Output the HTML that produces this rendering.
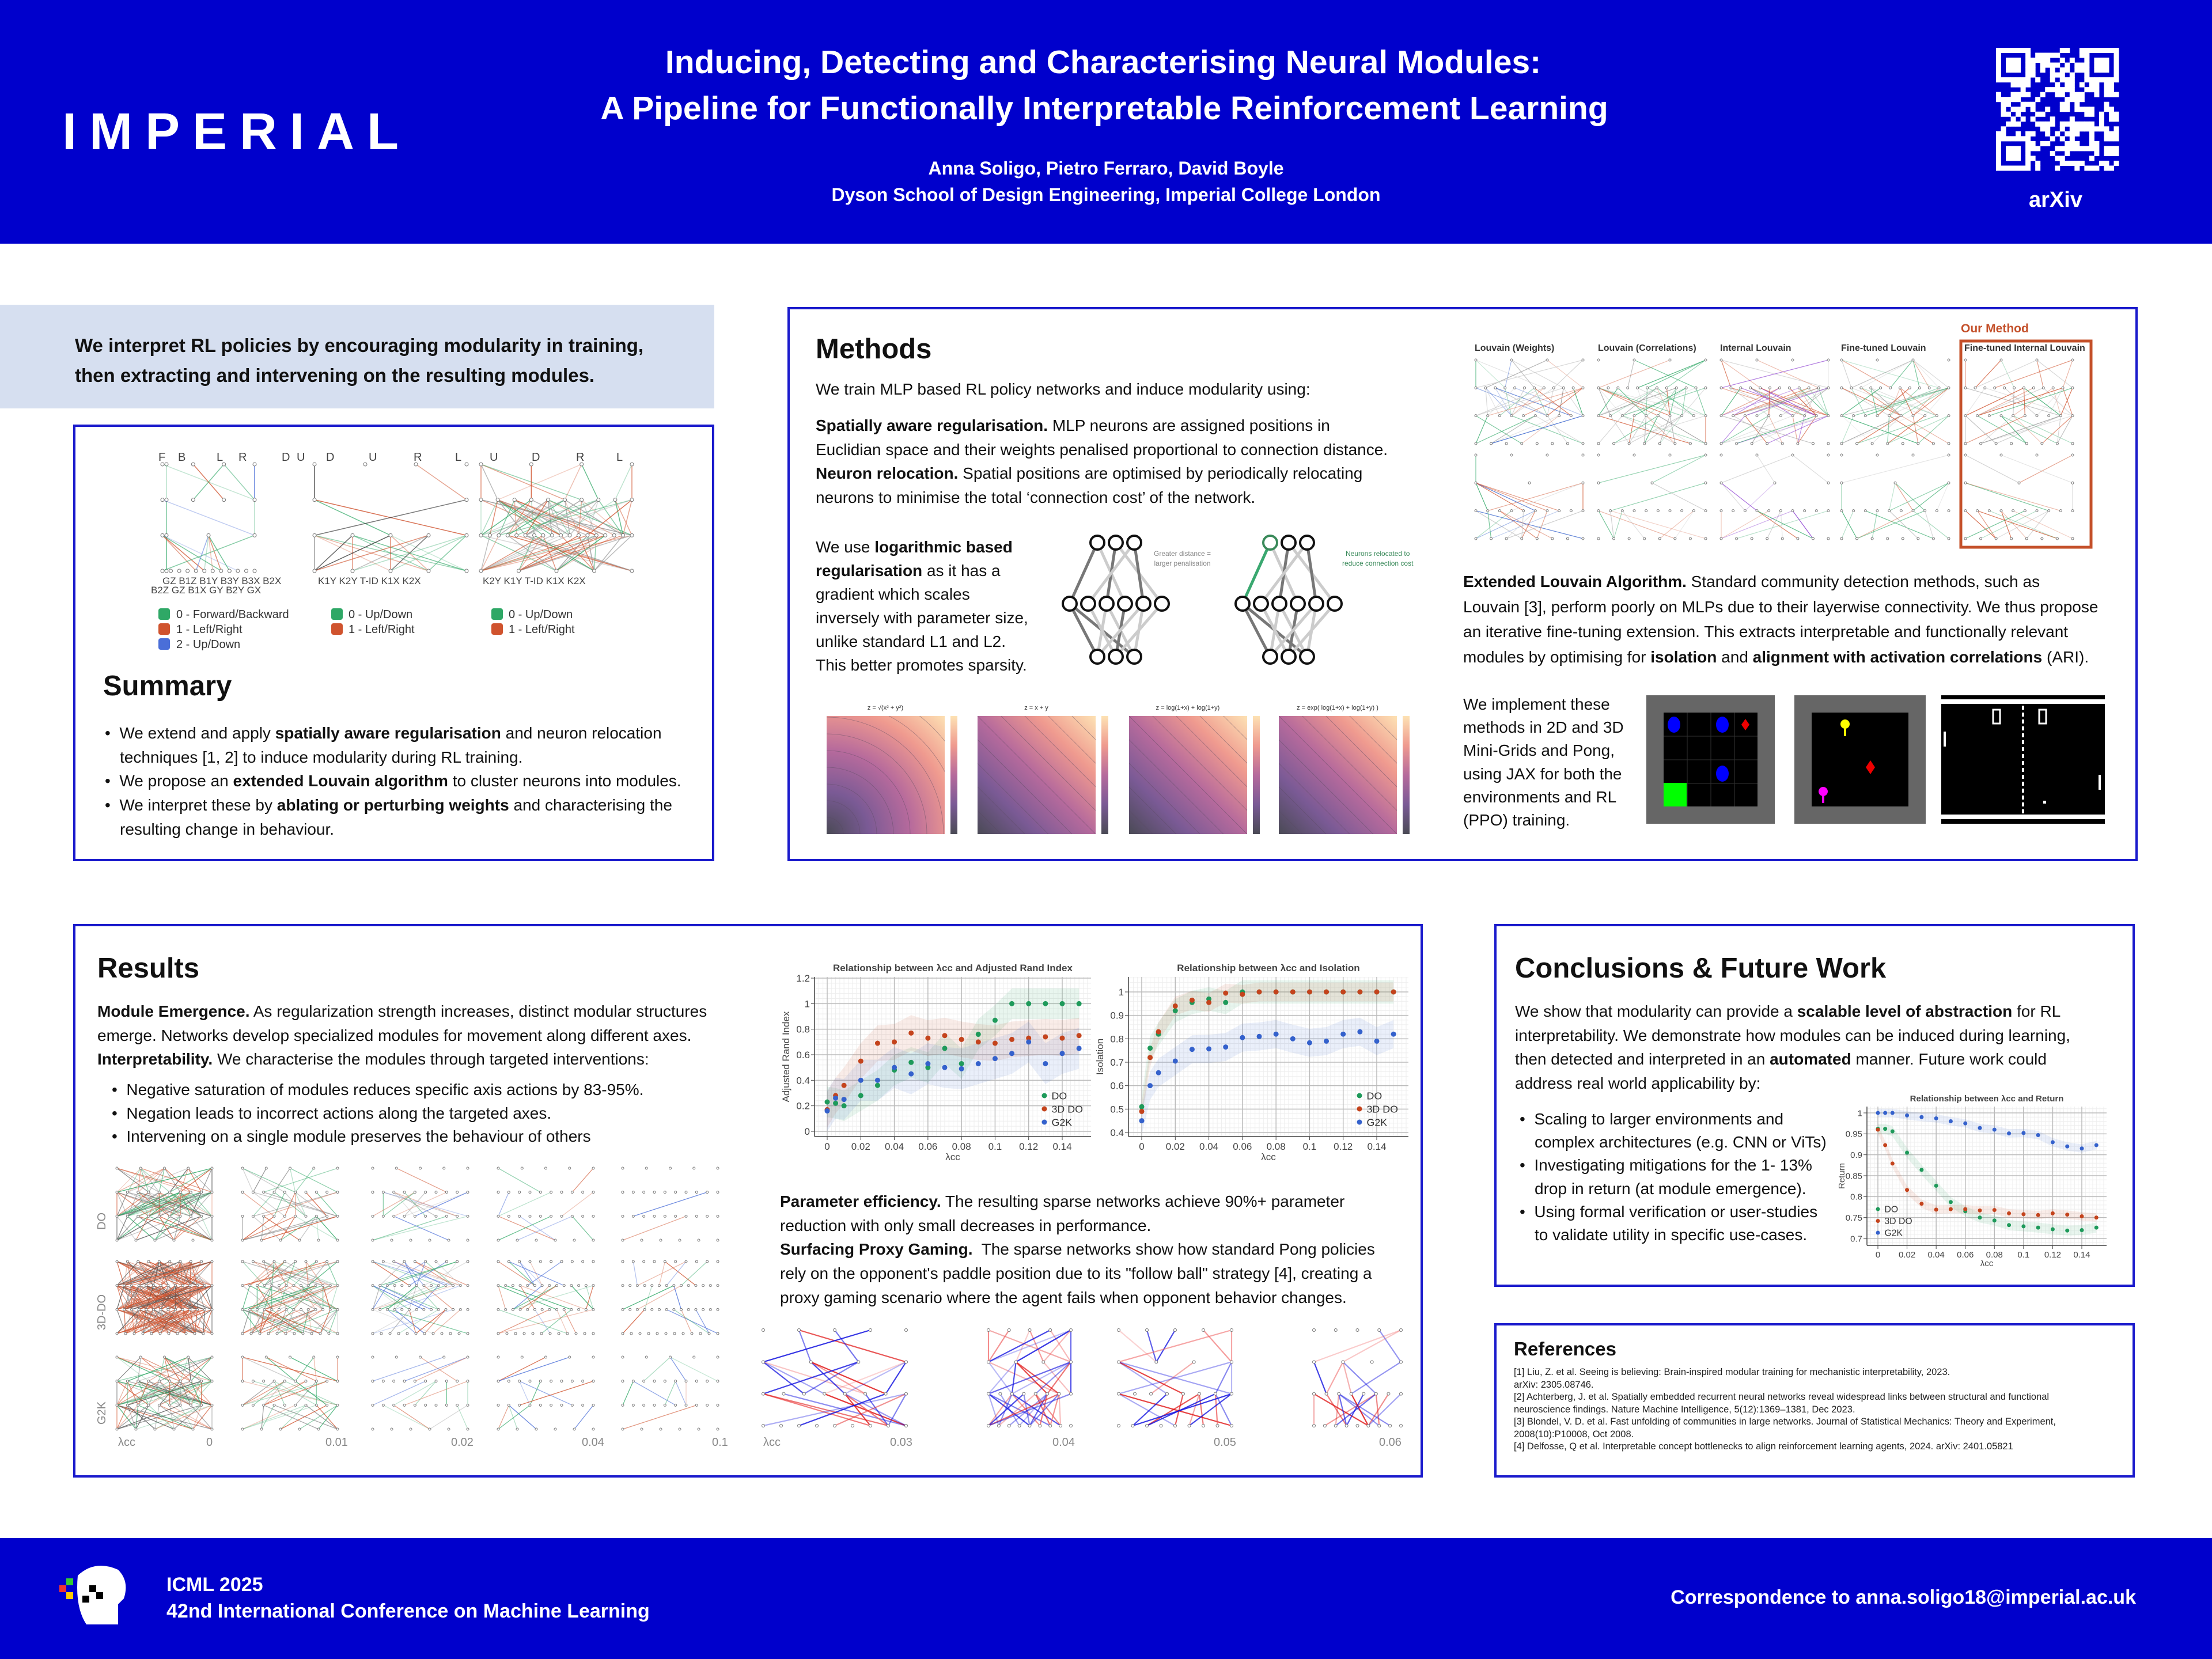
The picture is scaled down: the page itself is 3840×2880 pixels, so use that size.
<!DOCTYPE html>
<html><head><meta charset="utf-8">
<style>
*{margin:0;padding:0;box-sizing:border-box}
body{width:3840px;height:2880px;position:relative;background:#fff;font-family:"Liberation Sans",sans-serif;color:#111;overflow:hidden}
.abs{position:absolute;white-space:nowrap}
.box{position:absolute;border:4px solid #1a1acc;background:#fff}
.hdr{position:absolute;left:0;top:0;width:3840px;height:423px;background:#0000cc}
.ftr{position:absolute;left:0;top:2670px;width:3840px;height:210px;background:#0000cc}
.w{color:#fff;font-weight:bold}
.h2{font-size:49px;font-weight:bold;color:#111}
.t{font-size:28px;line-height:1}
b{font-weight:bold}
svg{position:absolute;left:0;top:0}
</style></head><body>
<div class="hdr"></div>
<div class="ftr"></div>
<div class="box" style="left:0;top:529px;width:1240px;height:180px;background:#d6dff0;border:none"></div>
<div class="box" style="left:127px;top:737px;width:1113px;height:758px"></div>
<div class="box" style="left:1367px;top:533px;width:2344px;height:962px"></div>
<div class="box" style="left:127px;top:1604px;width:2343px;height:961px"></div>
<div class="box" style="left:2594px;top:1604px;width:1112px;height:630px"></div>
<div class="box" style="left:2594px;top:2297px;width:1112px;height:268px"></div>

<svg id="g" width="3840" height="2880" viewBox="0 0 3840 2880"></svg>

<!-- header -->
<div class="abs w" style="left:108px;top:178px;font-size:90px;letter-spacing:22px;font-family:'Liberation Sans',sans-serif">IMPERIAL</div>
<div class="abs w" style="left:0;width:3840px;text-align:center;top:68px;font-size:57px;line-height:80px;padding-right:6px"><span style="display:block;margin-left:-4px">Inducing, Detecting and Characterising Neural Modules:</span><span style="display:block">A Pipeline for Functionally Interpretable Reinforcement Learning</span></div>
<div class="abs w" style="left:0;width:3840px;text-align:center;top:274px;font-size:32px">Anna Soligo, Pietro Ferraro, David Boyle</div>
<div class="abs w" style="left:0;width:3840px;text-align:center;top:320px;font-size:32px">Dyson School of Design Engineering, Imperial College London</div>
<div class="abs w" style="left:3522px;top:326px;font-size:38px">arXiv</div>

<!-- intro -->
<div class="abs" style="left:130px;top:574px;font-size:33px;font-weight:bold;line-height:52px">We interpret RL policies by encouraging modularity in training,<br>then extracting and intervening on the resulting modules.</div>

<!-- summary -->
<div class="abs" style="left:306px;top:1054px;font-size:20px;line-height:26px;color:#333">0 - Forward/Backward<br>1 - Left/Right<br>2 - Up/Down</div>
<div class="abs" style="left:605px;top:1054px;font-size:20px;line-height:26px;color:#333">0 - Up/Down<br>1 - Left/Right</div>
<div class="abs" style="left:883px;top:1054px;font-size:20px;line-height:26px;color:#333">0 - Up/Down<br>1 - Left/Right</div>
<div class="abs h2" style="left:179px;top:1163px">Summary</div>
<div class="abs t" style="left:182px;top:1252px;line-height:41.7px">
•&nbsp; We extend and apply <b>spatially aware regularisation</b> and neuron relocation<br>
<span style="padding-left:26px">techniques [1, 2] to induce modularity during RL training.</span><br>
•&nbsp; We propose an <b>extended Louvain algorithm</b> to cluster neurons into modules.<br>
•&nbsp; We interpret these by <b>ablating or perturbing weights</b> and characterising the<br>
<span style="padding-left:26px">resulting change in behaviour.</span></div>

<!-- methods -->
<div class="abs h2" style="left:1416px;top:578px">Methods</div>
<div class="abs t" style="left:1416px;top:662px">We train MLP based RL policy networks and induce modularity using:</div>
<div class="abs t" style="left:1416px;top:718px;line-height:41.5px"><b>Spatially aware regularisation.</b> MLP neurons are assigned positions in<br>Euclidian space and their weights penalised proportional to connection distance.<br><b>Neuron relocation.</b> Spatial positions are optimised by periodically relocating<br>neurons to minimise the total ‘connection cost’ of the network.</div>
<div class="abs t" style="left:1416px;top:929px;line-height:41px">We use <b>logarithmic based</b><br><b>regularisation</b> as it has a<br>gradient which scales<br>inversely with parameter size,<br>unlike standard L1 and L2.<br>This better promotes sparsity.</div>
<div class="abs" style="left:2003px;top:953px;font-size:12px;line-height:17px;color:#888;text-align:center">Greater distance =<br>larger penalisation</div>
<div class="abs" style="left:2330px;top:953px;font-size:12px;line-height:17px;color:#3a8a5a;text-align:center">Neurons relocated to<br>reduce connection cost</div>
<div class="abs" style="left:3404px;top:559px;font-size:21px;color:#c4502a;font-weight:bold">Our Method</div>
<div class="abs" style="left:0;top:596px;font-size:16px;color:#333;font-weight:bold">
<span class="abs" style="left:2560px">Louvain (Weights)</span><span class="abs" style="left:2774px">Louvain (Correlations)</span><span class="abs" style="left:2986px">Internal Louvain</span><span class="abs" style="left:3196px">Fine-tuned Louvain</span><span class="abs" style="left:3410px">Fine-tuned Internal Louvain</span></div>
<div class="abs t" style="left:2540px;top:988px;line-height:43.5px"><b>Extended Louvain Algorithm.</b> Standard community detection methods, such as<br>Louvain [3], perform poorly on MLPs due to their layerwise connectivity. We thus propose<br>an iterative fine-tuning extension. This extracts interpretable and functionally relevant<br>modules by optimising for <b>isolation</b> and <b>alignment with activation correlations</b> (ARI).</div>
<div class="abs t" style="left:2540px;top:1203px;line-height:40.2px">We implement these<br>methods in 2D and 3D<br>Mini-Grids and Pong,<br>using JAX for both the<br>environments and RL<br>(PPO) training.</div>

<!-- results -->
<div class="abs h2" style="left:169px;top:1653px">Results</div>
<div class="abs t" style="left:169px;top:1735px;line-height:41.5px"><b>Module Emergence.</b> As regularization strength increases, distinct modular structures<br>emerge. Networks develop specialized modules for movement along different axes.<br><b>Interpretability.</b> We characterise the modules through targeted interventions:</div>
<div class="abs t" style="left:194px;top:1872px;line-height:40.5px">•&nbsp; Negative saturation of modules reduces specific axis actions by 83-95%.<br>•&nbsp; Negation leads to incorrect actions along the targeted axes.<br>•&nbsp; Intervening on a single module preserves the behaviour of others</div>
<div class="abs t" style="left:1354px;top:2065px;line-height:41.7px"><b>Parameter efficiency.</b> The resulting sparse networks achieve 90%+ parameter<br>reduction with only small decreases in performance.<br><b>Surfacing Proxy Gaming.</b>&nbsp; The sparse networks show how standard Pong policies<br>rely on the opponent's paddle position due to its "follow ball" strategy [4], creating a<br>proxy gaming scenario where the agent fails when opponent behavior changes.</div>

<!-- conclusions -->
<div class="abs h2" style="left:2630px;top:1653px">Conclusions &amp; Future Work</div>
<div class="abs t" style="left:2630px;top:1735px;line-height:41.5px">We show that modularity can provide a <b>scalable level of abstraction</b> for RL<br>interpretability. We demonstrate how modules can be induced during learning,<br>then detected and interpreted in an <b>automated</b> manner. Future work could<br>address real world applicability by:</div>
<div class="abs t" style="left:2638px;top:1923px;line-height:40.2px">•&nbsp; Scaling to larger environments and<br><span style="padding-left:26px">complex architectures (e.g. CNN or ViTs)</span><br>•&nbsp; Investigating mitigations for the 1- 13%<br><span style="padding-left:26px">drop in return (at module emergence).</span><br>•&nbsp; Using formal verification or user-studies<br><span style="padding-left:26px">to validate utility in specific use-cases.</span></div>

<!-- references -->
<div class="abs" style="left:2628px;top:2323px;font-size:33px;font-weight:bold">References</div>
<div class="abs" style="left:2628px;top:2372px;font-size:16.5px;line-height:21.5px;color:#222">[1] Liu, Z. et al. Seeing is believing: Brain-inspired modular training for mechanistic interpretability, 2023.<br>arXiv: 2305.08746.<br>[2] Achterberg, J. et al. Spatially embedded recurrent neural networks reveal widespread links between structural and functional<br>neuroscience findings. Nature Machine Intelligence, 5(12):1369–1381, Dec 2023.<br>[3] Blondel, V. D. et al. Fast unfolding of communities in large networks. Journal of Statistical Mechanics: Theory and Experiment,<br>2008(10):P10008, Oct 2008.<br>[4] Delfosse, Q et al. Interpretable concept bottlenecks to align reinforcement learning agents, 2024. arXiv: 2401.05821</div>

<!-- footer -->
<div class="abs w" style="left:289px;top:2728px;font-size:34px;line-height:46px">ICML 2025<br>42nd International Conference on Machine Learning</div>
<div class="abs w" style="right:132px;top:2754px;font-size:34px">Correspondence to anna.soligo18@imperial.ac.uk</div>

<script>
// ---- chart data ----
const lambdas = [0,0.005,0.01,0.02,0.03,0.04,0.05,0.06,0.07,0.08,0.09,0.1,0.11,0.12,0.13,0.14,0.15];
const seriesNames = ["DO","3D DO","G2K"];
const ariDO  = [0.23,0.22,0.20,0.28,0.36,0.48,0.54,0.50,0.65,0.53,0.76,0.87,1,1,1,1,1];
const ari3D  = [0.17,0.28,0.36,0.55,0.69,0.70,0.77,0.73,0.75,0.72,0.70,0.69,0.72,0.73,0.74,0.73,0.75];
const ariG2K = [0.16,0.26,0.25,0.40,0.40,0.50,0.45,0.53,0.50,0.49,0.53,0.57,0.61,0.70,0.53,0.61,0.65];
const ariSpread = [0.12,0.14,0.16];
const isoDO  = [0.51,0.76,0.82,0.92,0.955,0.97,0.955,1,1,1,1,1,1,1,1,1,1];
const iso3D  = [0.49,0.72,0.83,0.94,0.965,0.955,0.995,0.99,1,1,1,1,1,1,1,1,1];
const isoG2K = [0.45,0.60,0.655,0.705,0.755,0.757,0.765,0.805,0.81,0.82,0.80,0.783,0.79,0.82,0.83,0.79,0.82];
const isoSpread = [0.05,0.04,0.06];
const retDO  = [0.962,0.962,0.956,0.905,0.864,0.826,0.787,0.765,0.75,0.743,0.732,0.729,0.726,0.722,0.719,0.72,0.726];
const ret3D  = [0.96,0.923,0.879,0.816,0.783,0.769,0.77,0.77,0.767,0.768,0.76,0.758,0.756,0.76,0.757,0.753,0.75];
const retG2K = [1,1,1,0.994,0.99,0.987,0.98,0.975,0.964,0.96,0.951,0.952,0.947,0.93,0.92,0.915,0.923];
const retSpread = [0.012,0.01,0.01];
const xTicks = [0,0.02,0.04,0.06,0.08,0.1,0.12,0.14];
const ariTicks = [0,0.2,0.4,0.6,0.8,1,1.2];
const isoTicks = [0.4,0.5,0.6,0.7,0.8,0.9,1];
const retTicks = [0.7,0.75,0.8,0.85,0.9,0.95,1];
const colors = ["#1e9a5a","#c4431c","#3461cc"];

const NS="http://www.w3.org/2000/svg";
const G=document.getElementById('g');
function el(tag,attrs,parent){const e=document.createElementNS(NS,tag);for(const k in attrs)e.setAttribute(k,attrs[k]);(parent||G).appendChild(e);return e;}

let seed=7;function rnd(){seed=(seed*16807)%2147483647;return seed/2147483647;}

function chart(c){
  const g=el('g',{});
  
  
  const X=v=>c.x0+v/0.14*(c.x14-c.x0);
  const Y=v=>c.yb+(v-c.vb)/(c.vt-c.vb)*(c.yt-c.yb);
  el('rect',{x:c.box[0],y:c.box[1],width:c.box[2]-c.box[0],height:c.box[3]-c.box[1],fill:'#fff'},g);
  for(let v=-0.01;v<=0.16;v+=0.0025){const x=X(v);if(x>c.box[0]&&x<c.box[2])el('line',{x1:x,x2:x,y1:c.box[1],y2:c.box[3],stroke:'#eee','stroke-width':1},g);}
  const st=(c.ticks[1]-c.ticks[0])/5;
  for(let v=c.ticks[0]-st*5;v<=c.ticks[c.ticks.length-1]+st*5;v+=st){const y=Y(v);if(y>c.box[1]&&y<c.box[3])el('line',{x1:c.box[0],x2:c.box[2],y1:y,y2:y,stroke:'#eee','stroke-width':1},g);}
  xTicks.forEach(v=>{el('line',{x1:X(v),x2:X(v),y1:c.box[1],y2:c.box[3],stroke:'#bbb','stroke-width':1.5},g);
    const t=el('text',{x:X(v),y:c.box[3]+c.fs+6,'font-size':c.fs,'text-anchor':'middle',fill:'#444','font-family':'Liberation Sans'},g);t.textContent=v;
    el('line',{x1:X(v),x2:X(v),y1:c.box[3],y2:c.box[3]+6,stroke:'#444'},g);});
  c.ticks.forEach(v=>{el('line',{x1:c.box[0],x2:c.box[2],y1:Y(v),y2:Y(v),stroke:'#bbb','stroke-width':1.5},g);
    const t=el('text',{x:c.box[0]-8,y:Y(v)+c.fs*0.35,'font-size':c.fs,'text-anchor':'end',fill:'#444','font-family':'Liberation Sans'},g);t.textContent=v;
    el('line',{x1:c.box[0]-6,x2:c.box[0],y1:Y(v),y2:Y(v),stroke:'#444'},g);});
  el('line',{x1:c.box[0],x2:c.box[0],y1:c.box[1],y2:c.box[3],stroke:'#444','stroke-width':1.5},g);
  el('line',{x1:c.box[0],x2:c.box[2],y1:c.box[3],y2:c.box[3],stroke:'#444','stroke-width':1.5},g);
  c.series.forEach((s,i)=>{
    let top=lambdas.map((l,j)=>X(l)+','+Y(s[j]+c.spread[i])).join(' ');
    let bot=lambdas.map((l,j)=>X(l)+','+Y(s[j]-c.spread[i])).reverse().join(' ');
    const band=el('polygon',{points:top+' '+bot,fill:colors[i],opacity:0.1},g);
    
    
  });
  c.series.forEach((s,i)=>{
    lambdas.forEach((l,j)=>{
      const p=el('circle',{cx:X(l),cy:Y(s[j]),r:c.r,fill:colors[i]},g);
      
      
    });
  });
  const tt=el('text',{x:(c.box[0]+c.box[2])/2,y:c.box[1]-c.fs*0.6,'font-size':c.fs,'font-weight':'bold','text-anchor':'middle',fill:'#444','font-family':'Liberation Sans'},g);tt.textContent=c.title;
  const xl=el('text',{x:(c.box[0]+c.box[2])/2,y:c.box[3]+c.fs*2.4,'font-size':c.fs,'text-anchor':'middle',fill:'#444','font-family':'Liberation Sans'},g);xl.textContent='λcc';
  if(c.ylabel){const yl=el('text',{x:0,y:0,'font-size':c.fs,'text-anchor':'middle',fill:'#444','font-family':'Liberation Sans',transform:`translate(${c.box[0]-c.fs*2.6},${(c.box[1]+c.box[3])/2}) rotate(-90)`},g);yl.textContent=c.ylabel;}
  seriesNames.forEach((n,i)=>{
    const le=el('g',{},g);
    
    
    el('circle',{cx:c.leg[0],cy:c.leg[1]+i*c.leg[2],r:c.r,fill:colors[i]},le);
    const t=el('text',{x:c.leg[0]+c.r+8,y:c.leg[1]+i*c.leg[2]+c.fs*0.38,'font-size':c.fs*1.05,fill:'#333','font-family':'Liberation Sans'},le);t.textContent=n;
  });
}

function net(x,y,w,h,layers,cols,dens,nm,opts){
  opts=opts||{};
  const g=el('g',{});
  
  
  const L=layers.length;const pos=[];
  layers.forEach((n,i)=>{const yy=y+i*h/(L-1);const arr=[];for(let k=0;k<n;k++)arr.push([x+(n==1?w/2:k*w/(n-1)),yy]);pos.push(arr);});
  for(let i=0;i<L-1;i++){pos[i].forEach(a=>{pos[i+1].forEach(b=>{if(rnd()<dens){const c=cols[Math.floor(rnd()*cols.length)];el('line',{x1:a[0],y1:a[1],x2:b[0],y2:b[1],stroke:c,'stroke-width':opts.sw||1.5,opacity:0.25+rnd()*0.6},g);}});});}
  if(!opts.nonodes)pos.forEach(arr=>arr.forEach(p=>el('circle',{cx:p[0],cy:p[1],r:opts.nr||3,fill:'#fff',stroke:'#777','stroke-width':1},g)));
  return g;
}

(function(){const g=el('g',{});
 const x0=3465,y0=83,n=25,s=213/n;el('rect',{x:x0,y:y0,width:213,height:213,fill:'#0000cc'},g);
 for(let i=0;i<n;i++)for(let j=0;j<n;j++){let f=rnd()<0.5;
  const inF=(a,b)=>i>=a&&i<a+7&&j>=b&&j<b+7;
  [[0,0],[0,18],[18,0]].forEach(([a,b])=>{if(inF(a,b)){const ii=i-a,jj=j-b;f=(ii==0||ii==6||jj==0||jj==6||(ii>=2&&ii<=4&&jj>=2&&jj<=4));}});
  if(f)el('rect',{x:x0+j*s,y:y0+i*s,width:s+0.5,height:s+0.5,fill:'#fff'},g);}
})();

(function(){const g=el('g',{});
 el('path',{d:'M135 2735 q30-28 70-10 q20 20 10 50 l-10 10 v35 h-55 q-20-30-15-85z',fill:'#fff'},g);
 [[103,2752,'#e33'],[115,2740,'#3c3'],[115,2764,'#fc0'],[155,2752,'#000'],[167,2764,'#000'],[143,2770,'#000']].forEach(([a,b,c])=>el('rect',{x:a,y:b,width:12,height:12,fill:c},g));
})();

const NG='#2fa866',NR='#d0532e',NB='#4a6ed8';
net(262,806,54,185,[1,1,1,1],[NG],1,'net-do-1');
net(282,806,160,185,[4,4,3,12],[NG,NR,NB],0.28,'net-do-module',{nr:3});
net(546,806,264,185,[4,2,5,5],[NG,NR,'#333'],0.45,'net-grid2k-modules');
net(835,806,262,185,[4,10,18,5],[NG,NR,'#999'],0.35,'net-grid2k-full');
[['F',275],['B',309],['L',376],['R',414],['D',489],['U',515],['D',566],['U',640],['R',718],['L',790],['U',850],['D',923],['R',1000],['L',1070]].forEach(([t,x])=>{const e=el('text',{x:x,y:800,'font-size':20,fill:'#444','font-family':'Liberation Sans'});e.textContent=t;});
[['GZ  B1Z B1Y B3Y B3X B2X',282,1014],['B2Z GZ  B1X GY  B2Y GX',262,1030],['K1Y   K2Y   T-ID   K1X   K2X',552,1014],['K2Y   K1Y   T-ID   K1X   K2X',838,1014]].forEach(([t,x,y])=>{const e=el('text',{x:x,y:y,'font-size':17,fill:'#444','font-family':'Liberation Sans','xml:space':'preserve'});e.textContent=t;});
[[275,1054,NG],[275,1080,NR],[275,1106,NB],[575,1054,NG],[575,1080,NR],[853,1054,NG],[853,1080,NR]].forEach(([x,y,c])=>el('rect',{x:x,y:y+2,width:20,height:20,rx:4,fill:c}));

function toyNet(ox,green,nm){const g=el('g',{});
 const top=[[0,0],[32,0],[64,0]].map(p=>[ox+p[0]+60,942]);const mid=[0,1,2,3,4,5].map(k=>[ox+k*32+12,1048]);const bot=[[0,0],[32,0],[64,0]].map(p=>[ox+p[0]+60,1140]);
 top.forEach((a,i)=>mid.forEach((b,j)=>{if((i+j)%3==0)el('line',{x1:a[0],y1:a[1],x2:b[0],y2:b[1],stroke:(green&&i==0&&j<2)?'#3aa870':(j%2?'#ccc':'#777'),'stroke-width':5},g);}));
 mid.forEach((a,i)=>bot.forEach((b,j)=>{if((i+j)%2==0)el('line',{x1:a[0],y1:a[1],x2:b[0],y2:b[1],stroke:i%3?'#ccc':'#777','stroke-width':5},g);}));
 [...top,...mid,...bot].forEach((p,k)=>el('circle',{cx:p[0],cy:p[1],r:12,fill:'#fff',stroke:(green&&k==0)?'#3a8a5a':'#111','stroke-width':4},g));}
toyNet(1845,false,'toy-net-distance');toyNet(2145,true,'toy-net-relocated');

(function(){const panels=[[1435,'z = √(x² + y²)','r'],[1697,'z = x + y','l'],[1960,'z = log(1+x) + log(1+y)','l'],[2220,'z = exp( log(1+x) + log(1+y) )','l']];
 const defs=el('defs',{});
 const rg=el('radialGradient',{id:'rg',cx:0,cy:1,r:1.42,gradientUnits:'objectBoundingBox'},defs);
 const stops=[[0,'#4a4a55'],[0.25,'#7a5a95'],[0.5,'#b66a9c'],[0.75,'#ef9a8f'],[1,'#fde2b4']];
 stops.forEach(s=>el('stop',{offset:s[0],'stop-color':s[1]},rg));
 const lg=el('linearGradient',{id:'lg',x1:0,y1:1,x2:1,y2:0},defs);stops.forEach(s=>el('stop',{offset:s[0],'stop-color':s[1]},lg));
 const cb=el('linearGradient',{id:'cb',x1:0,y1:1,x2:0,y2:0},defs);stops.forEach(s=>el('stop',{offset:s[0],'stop-color':s[1]},cb));
 panels.forEach(([x,t,ty],i)=>{
  const cp=el('clipPath',{id:'c'+i},defs);el('rect',{x:x,y:1243,width:205,height:205},cp);
  const g=el('g',{});
  el('rect',{x:x,y:1243,width:205,height:205,fill:ty=='r'?'url(#rg)':'url(#lg)'},g);
  const cg=el('g',{'clip-path':'url(#c'+i+')'},g);
  for(let k=1;k<10;k++){ if(ty=='r')el('circle',{cx:x,cy:1448,r:k*29,fill:'none',stroke:'#5a4a60','stroke-width':0.8,opacity:0.5},cg);
   else el('line',{x1:x,y1:1448-k*41,x2:x+k*41,y2:1448,stroke:'#5a4a60','stroke-width':0.8,opacity:0.5},cg);}
  el('rect',{x:x+215,y:1243,width:12,height:205,fill:'url(#cb)'},g);
  const tt=el('text',{x:x+102,y:1232,'font-size':11,'text-anchor':'middle',fill:'#333','font-family':'Liberation Sans'},g);tt.textContent=t;});
})();

[[2554,'#3461cc'],[2767,'#2fa866'],[2980,'#8a3ad0'],[3189,'#2fa866'],[3404,'#d0532e']].forEach(([x,c],i)=>{
 net(x+8,625,186,145,[4,12,10,8],[c,NG,NR,'#999','#ccc'],0.18,'louvain-top-'+(i+1),{sw:1.2,nr:2});
 net(x+8,790,186,145,[4,3,10,8],[c,NG,NR,'#bbb'],0.14,'louvain-bottom-'+(i+1),{sw:1.2,nr:2});});
el('rect',{x:3404,y:592,width:226,height:358,fill:'none',stroke:'#c4502a','stroke-width':5});

(function(){const g=el('g',{});
 el('rect',{x:2858,y:1207,width:223,height:223,fill:'#666'},g);el('rect',{x:2888,y:1237,width:163,height:163,fill:'#000'},g);
 for(let k=1;k<4;k++){el('line',{x1:2888+k*41,y1:1237,x2:2888+k*41,y2:1400,stroke:'#333'},g);el('line',{x1:2888,y1:1237+k*41,x2:3051,y2:1237+k*41,stroke:'#333'},g);}
 el('ellipse',{cx:2906,cy:1258,rx:11,ry:14,fill:'#00f'},g);el('ellipse',{cx:2990,cy:1258,rx:11,ry:14,fill:'#00f'},g);el('ellipse',{cx:2990,cy:1343,rx:11,ry:14,fill:'#00f'},g);
 el('polygon',{points:'3030,1248 3037,1258 3030,1268 3023,1258',fill:'#e00'},g);el('rect',{x:2888,y:1359,width:40,height:41,fill:'#0f0'},g);
 const g2=el('g',{});
 el('rect',{x:3115,y:1207,width:228,height:223,fill:'#666'},g2);el('rect',{x:3145,y:1237,width:168,height:163,fill:'#000'},g2);
 el('circle',{cx:3203,cy:1257,r:8,fill:'#ff0'},g2);el('rect',{x:3201,y:1262,width:4,height:16,fill:'#ff0'},g2);
 el('polygon',{points:'3247,1320 3255,1332 3247,1344 3239,1332',fill:'#e00'},g2);el('circle',{cx:3165,cy:1374,r:8,fill:'#f0f'},g2);el('rect',{x:3163,y:1378,width:4,height:16,fill:'#f0f'},g2);
 const g3=el('g',{});
 el('rect',{x:3370,y:1207,width:284,height:223,fill:'#000'},g3);el('rect',{x:3370,y:1214,width:284,height:8,fill:'#fff'},g3);el('rect',{x:3370,y:1414,width:284,height:8,fill:'#fff'},g3);
 for(let yy=1225;yy<1410;yy+=12)el('rect',{x:3510,y:yy,width:4,height:7,fill:'#fff'},g3);
 el('rect',{x:3460,y:1232,width:12,height:24,fill:'none',stroke:'#fff','stroke-width':3},g3);el('rect',{x:3540,y:1232,width:12,height:24,fill:'none',stroke:'#fff','stroke-width':3},g3);
 el('rect',{x:3374,y:1270,width:4,height:26,fill:'#fff'},g3);el('rect',{x:3643,y:1345,width:4,height:26,fill:'#fff'},g3);el('rect',{x:3547,y:1390,width:5,height:5,fill:'#fff'},g3);
})();

const rowsY=[2016,2178,2344];const colsX=[203,421,647,865,1081];
const dens=[0.55,0.2,0.1,0.05,0.03];
const colSets=[[NG,NR,'#555'],[NR,NG,'#888'],[NG,NR,NB,'#aaa'],[NR,NB,NG],[NR,NG,NB]];
rowsY.forEach((y,r)=>colsX.forEach((x,c)=>{const lay=r==1?[10,14,14,12]:[5,10,10,6];
 net(x,y+12,165,125,lay,c==0&&r==1?[NR,NR,'#555']:colSets[c],dens[c],'net-grid-r'+r+'-c'+c,{sw:1.3,nr:2});}));
[['DO',2120],['3D-DO',2278],['G2K',2453]].forEach(([t,y])=>{const e=el('text',{x:0,y:0,'font-size':20,fill:'#888','text-anchor':'middle','font-family':'Liberation Sans',transform:`translate(183,${y}) rotate(-90)`});e.textContent=t;});
[['λcc',205],['0',358],['0.01',565],['0.02',783],['0.04',1010],['0.1',1236],['λcc',1325],['0.03',1545],['0.04',1827],['0.05',2107],['0.06',2394]].forEach(([t,x])=>{const e=el('text',{x:x,y:2510,'font-size':20,fill:'#888','font-family':'Liberation Sans'});e.textContent=t;});
[[1325,248,0.22],[1716,143,0.35],[1942,196,0.22],[2281,151,0.18]].forEach(([x,w,d],i)=>net(x,2309,w,166,[5,4,8,9],['#1010e0','#1010e0','#e01010','#f06060'],d,'pong-net-'+(i+1),{sw:2.2,nr:2.5}));

chart({name:'ari-chart',title:'Relationship between λcc and Adjusted Rand Index',ylabel:'Adjusted Rand Index',box:[1414,1696,1894,1973],x0:1436,x14:1844,vt:1.2,yt:1698,vb:0,yb:1964,ticks:ariTicks,series:[ariDO,ari3D,ariG2K],spread:ariSpread,fs:17,r:4.5,leg:[1813,1902,23]});
chart({name:'isolation-chart',title:'Relationship between λcc and Isolation',ylabel:'Isolation',box:[1959,1696,2445,1973],x0:1982,x14:2390,vt:1,yt:1722,vb:0.4,yb:1966,ticks:isoTicks,series:[isoDO,iso3D,isoG2K],spread:isoSpread,fs:17,r:4.5,leg:[2360,1902,23]});
chart({name:'return-chart',title:'Relationship between λcc and Return',ylabel:'Return',box:[3241,1921,3657,2162],x0:3260,x14:3614,vt:1,yt:1932,vb:0.7,yb:2150,ticks:retTicks,series:[retDO,ret3D,retG2K],spread:retSpread,fs:15,r:3.5,leg:[3260,2099,20.5]});
</script>
</body></html>
